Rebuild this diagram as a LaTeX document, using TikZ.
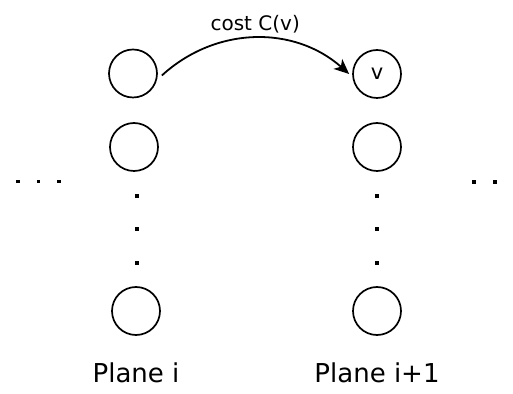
\documentclass[tikz,border=0pt]{standalone}
\usepackage{fontspec}
\setmainfont{DejaVu Sans}
\usetikzlibrary{positioning}
\usetikzlibrary{arrows.meta}

\begin{document}
\begin{tikzpicture}[%
x=1pt, y=1pt,
knute/.style={circle,draw,line width=1.7pt,minimum size=48pt,inner sep=0pt},
prikk/.style={fill,inner sep=0pt,minimum size=3.6pt},
plantekst/.style={font=\fontsize{26}{30}\selectfont},
kostpil/.style={line width=1.8pt,-{Stealth[length=15pt,width=13pt,inset=4pt]}},
node distance=23pt]
\useasboundingbox (0,0) rectangle (513,393);
% plane i
\node [knute] (topp1) at (133,319.5) {};
\node [knute] (midt1) at (134,246) {};
\node [knute] (bunn1) at (136,82) {};
\node [prikk] (p11) at (137,197) {};
\node [prikk] (p12) at (137,164) {};
\node [prikk] (p13) at (137,130) {};
\node [plantekst] (plan1) [below=of bunn1] {Plane i};
% plane i+1
\node [knute] (topp2) at (377,319) {\fontsize{21}{24}\selectfont v};
\node [knute] (midt2) at (377,246) {};
\node [knute] (bunn2) at (377,82) {};
\node [prikk] (p21) at (377,197) {};
\node [prikk] (p22) at (377,164) {};
\node [prikk] (p23) at (377,130) {};
\node [plantekst] (plan2) [below=of bunn2] {Plane i+1};
% planes on either side
\node [prikk] (v1) at (18,211.5) {};
\node [prikk] (v2) at (38.5,211.5) {};
\node [prikk] (v3) at (59,211.5) {};
\node [prikk] (h1) at (474,211) {};
\node [prikk] (h2) at (495,211) {};
\node [prikk] (h3) at (515.5,211) {};
% cost edge
\draw [kostpil] ([xshift=4pt,yshift=-2pt]topp1.east) to[bend left=42]
  node[above=1pt,font=\fontsize{20}{24}\selectfont] (kost) {cost C(v)}
  ([xshift=-3pt]topp2.west);
\end{tikzpicture}
\end{document}
